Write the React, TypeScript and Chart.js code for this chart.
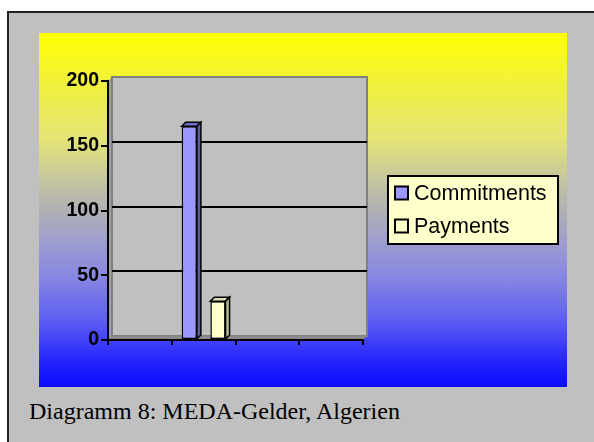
import React, { useEffect, useRef } from "react";
import { Chart, registerables } from "chart.js";

Chart.register(...registerables);

const categories = ["", "", "", ""];
const commitments = [null, 165, null, null];
const payments = [null, 30, null, null];
const seriesNames = ["Commitments", "Payments"];
const yTicks = { min: 0, max: 200, step: 50 };
const caption = "Diagramm 8: MEDA-Gelder, Algerien";

const D = 4;

const fronts = ["#9999ff", "#ffffcc"];
const sides = ["#5a5ab0", "#b8b894"];
const tops = ["#7070cc", "#dcdcb0"];

const wallPlugin = {
  id: "wall3d",
  beforeDraw(chart: any) {
    const { ctx, chartArea } = chart;
    const { left, right, top, bottom } = chartArea;
    const ys = chart.scales.y;
    ctx.save();
    ctx.fillStyle = "#a0a0a0";
    ctx.beginPath();
    ctx.moveTo(left, top);
    ctx.lineTo(left + D, top - D);
    ctx.lineTo(left + D, bottom - D);
    ctx.lineTo(left, bottom);
    ctx.closePath();
    ctx.fill();
    ctx.fillStyle = "#c0c0c0";
    ctx.fillRect(left + D, top - D, right - left, bottom - top);
    ctx.strokeStyle = "#808080";
    ctx.lineWidth = 2;
    ctx.strokeRect(left + D, top - D, right - left, bottom - top);
    ctx.fillStyle = "#8a8a8a";
    ctx.beginPath();
    ctx.moveTo(left, bottom);
    ctx.lineTo(left + D, bottom - D);
    ctx.lineTo(right + D, bottom - D);
    ctx.lineTo(right, bottom);
    ctx.closePath();
    ctx.fill();
    ctx.strokeStyle = "#000";
    ctx.lineWidth = 2;
    ys.ticks.forEach((t: any) => {
      if (t.value <= ys.min || t.value >= ys.max) return;
      const y = Math.round(ys.getPixelForValue(t.value) - D);
      ctx.beginPath();
      ctx.moveTo(left + D, y);
      ctx.lineTo(right + D, y);
      ctx.stroke();
    });
    ctx.restore();
  },
  afterDatasetsDraw(chart: any) {
    const { ctx } = chart;
    ctx.save();
    ctx.lineWidth = 1.5;
    ctx.strokeStyle = "#000";
    chart.data.datasets.forEach((ds: any, di: number) => {
      const meta = chart.getDatasetMeta(di);
      meta.data.forEach((bar: any, i: number) => {
        if (ds.data[i] == null) return;
        const { x, y, base, width } = bar.getProps(["x", "y", "base", "width"], true);
        const l = x - width / 2;
        const r = x + width / 2;
        ctx.fillStyle = tops[di];
        ctx.beginPath();
        ctx.moveTo(l, y);
        ctx.lineTo(l + D, y - D);
        ctx.lineTo(r + D, y - D);
        ctx.lineTo(r, y);
        ctx.closePath();
        ctx.fill();
        ctx.stroke();
        ctx.fillStyle = sides[di];
        ctx.beginPath();
        ctx.moveTo(r, y);
        ctx.lineTo(r + D, y - D);
        ctx.lineTo(r + D, base - D);
        ctx.lineTo(r, base);
        ctx.closePath();
        ctx.fill();
        ctx.stroke();
      });
    });
    ctx.restore();
  },
  afterDraw(chart: any) {
    const { ctx } = chart;
    const bx = 349, by = 143, bw = 170, bh = 68;
    ctx.save();
    ctx.fillStyle = "#ffffcc";
    ctx.fillRect(bx, by, bw, bh);
    ctx.strokeStyle = "#000";
    ctx.lineWidth = 2;
    ctx.strokeRect(bx, by, bw, bh);
    ctx.font = "21.5px 'Liberation Sans', Arial, sans-serif";
    ctx.textBaseline = "middle";
    chart.data.datasets.forEach((ds: any, di: number) => {
      const cy = by + 17 + di * 33;
      ctx.fillStyle = fronts[di];
      ctx.fillRect(bx + 7, cy - 6.5, 13, 13);
      ctx.strokeRect(bx + 7, cy - 6.5, 13, 13);
      ctx.fillStyle = "#000";
      ctx.fillText(ds.label, bx + 26, cy + 1);
    });
    ctx.restore();
  },
};

export default function App() {
  const ref = useRef<HTMLCanvasElement>(null);
  useEffect(() => {
    if (!ref.current) return;
    const chart = new Chart(ref.current, {
      type: "bar",
      data: {
        labels: categories,
        datasets: [
          {
            label: seriesNames[0],
            data: commitments,
            backgroundColor: fronts[0],
            borderColor: "#000",
            borderWidth: 1.5,
            borderSkipped: false,
          },
          {
            label: seriesNames[1],
            data: payments,
            backgroundColor: fronts[1],
            borderColor: "#000",
            borderWidth: 1.5,
            borderSkipped: false,
          },
        ],
      } as any,
      options: {
        animation: false,
        responsive: false,
        maintainAspectRatio: false,
        layout: { padding: { left: 0, right: 204, top: 48, bottom: 0 } },
        datasets: { bar: { categoryPercentage: 0.9, barPercentage: 0.53 } },
        plugins: { legend: { display: false }, tooltip: { enabled: false } },
        scales: {
          x: {
            grid: {
              offset: true,
              drawOnChartArea: false,
              color: "#000",
              lineWidth: 2,
              tickLength: 5,
            },
            border: { display: true, color: "#000", width: 2 },
            ticks: { display: false },
            afterFit: (s: any) => {
              s.height = 47;
            },
          },
          y: {
            min: yTicks.min,
            max: yTicks.max,
            ticks: {
              stepSize: yTicks.step,
              color: "#000",
              padding: 2,
              font: { family: "'Liberation Sans', Arial, sans-serif", size: 19.5, weight: "bold" },
            },
            grid: { drawOnChartArea: false, color: "#000", lineWidth: 2, tickLength: 7 },
            border: { display: true, color: "#000", width: 2 },
            afterFit: (s: any) => {
              s.width = 69;
            },
          },
        },
      } as any,
      plugins: [wallPlugin],
    });
    return () => chart.destroy();
  }, []);

  return (
    <div
      style={{
        position: "absolute",
        left: 0,
        top: 0,
        width: 594,
        height: 442,
        overflow: "hidden",
        background: "#fff",
      }}
    >
      <div
        style={{
          position: "absolute",
          left: 7,
          top: 11,
          width: 620,
          height: 460,
          background: "#c0c0c0",
          borderLeft: "2px solid #222",
          borderTop: "2px solid #222",
          boxSizing: "border-box",
        }}
      />
      <div
        style={{
          position: "absolute",
          left: 39,
          top: 33,
          width: 528,
          height: 354,
          background:
            "linear-gradient(to bottom, #ffff00 0%, #f0f040 15%, #e4e478 30%, #c4c4a0 42%, #b0b0b4 50%, #a0a0cc 58%, #8484e4 70%, #5a5af4 82%, #2828fc 92%, #0a0aff 100%)",
        }}
      />
      <canvas
        ref={ref}
        width={528}
        height={354}
        style={{ position: "absolute", left: 39, top: 33, width: 528, height: 354 }}
      />
      <div
        style={{
          position: "absolute",
          left: 29,
          top: 398,
          fontFamily: "'Liberation Serif', 'Times New Roman', serif",
          fontSize: 24,
          lineHeight: "26px",
          color: "#000",
          whiteSpace: "nowrap",
        }}
      >
        {caption}
      </div>
    </div>
  );
}
